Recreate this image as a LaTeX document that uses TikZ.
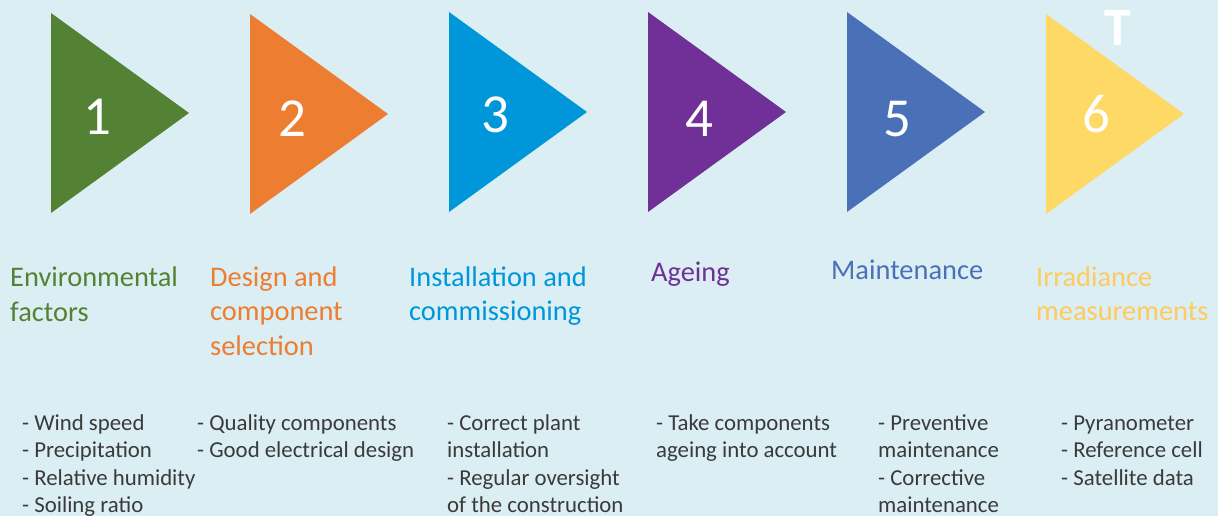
\documentclass[tikz,border=0pt]{standalone}
\usepackage{fontspec}
\setmainfont{Carlito}
\definecolor{bg}{HTML}{DAEEF3}
\definecolor{cgreen}{HTML}{548235}
\definecolor{corange}{HTML}{ED7D31}
\definecolor{cblue}{HTML}{0096DA}
\definecolor{cpurple}{HTML}{703097}
\definecolor{cnavy}{HTML}{4A70B8}
\definecolor{cyellow}{HTML}{FFD966}
\definecolor{tyellow}{HTML}{FFCA5E}
\definecolor{txt}{HTML}{3A3A3A}
\tikzset{
  numtext/.style={text=white, inner sep=0, anchor=base, font=\fontsize{55}{60}\selectfont},
  title/.style={anchor=base west, inner sep=0, font=\fontsize{28.4}{32}\selectfont},
  item/.style={anchor=base west, inner sep=0, text=txt, font=\fontsize{22.8}{26}\selectfont},
}
\begin{document}
\begin{tikzpicture}[x=1pt,y=-1pt]
  % canvas
  \fill[bg] (0,0) rectangle (1218,516);
  \useasboundingbox (0,0) rectangle (1218,516);

  % stage triangles: left edge, top, colour
  \foreach \l/\t/\c in {51/13/cgreen, 250/14/corange, 449/12/cblue,
                        648/12/cpurple, 847/12/cnavy, 1046/14/cyellow}{
    \fill[\c] (\l,\t) -- (\l+138,\t+100) -- (\l,\t+200) -- cycle;
  }

  % stage numbers
  \node[numtext] (n1) at (97,135) {1};
  \node[numtext] (n2) at (292,136) {2};
  \node[numtext] (n3) at (495,133) {3};
  \node[numtext] (n4) at (699,137) {4};
  \node[numtext] (n5) at (897,137) {5};
  \node[numtext] (n6) at (1096,132) {6};
  \node[text=white, inner sep=0, anchor=base, font=\fontsize{54}{60}\bfseries] (tmark) at (1118,46) {T};

  % stage titles
  \node[title, text=cgreen] (t1a) at (10,286) {Environmental};
  \node[title, text=cgreen] (t1b) at (10,321) {factors};
  \node[title, text=corange] (t2a) at (210,286) {Design and};
  \node[title, text=corange] (t2b) at (210,320.5) {component};
  \node[title, text=corange] (t2c) at (210,355) {selection};
  \node[title, text=cblue] (t3a) at (409,286) {Installation and};
  \node[title, text=cblue] (t3b) at (409,320.5) {commissioning};
  \node[title, text=cpurple] (t4a) at (651,281) {Ageing};
  \node[title, text=cnavy] (t5a) at (831,279) {Maintenance};
  \node[title, text=tyellow] (t6a) at (1036,286) {Irradiance};
  \node[title, text=tyellow] (t6b) at (1036,320.5) {measurements};

  % key points per stage
  \node[item] (i1a) at (22,430) {- Wind speed};
  \node[item] (i1b) at (22,457.5) {- Precipitation};
  \node[item] (i1c) at (22,485) {- Relative humidity};
  \node[item] (i1d) at (22,512.5) {- Soiling ratio};

  \node[item] (i2a) at (197,430) {- Quality components};
  \node[item] (i2b) at (197,457.5) {- Good electrical design};

  \node[item] (i3a) at (447,430) {- Correct plant};
  \node[item] (i3b) at (447,457.5) {installation};
  \node[item] (i3c) at (447,485) {- Regular oversight};
  \node[item] (i3d) at (447,512.5) {of the construction};

  \node[item] (i4a) at (656,430) {- Take components};
  \node[item] (i4b) at (656,457.5) {ageing into account};

  \node[item] (i5a) at (878,430) {- Preventive};
  \node[item] (i5b) at (878,457.5) {maintenance};
  \node[item] (i5c) at (878,485) {- Corrective};
  \node[item] (i5d) at (878,512.5) {maintenance};

  \node[item] (i6a) at (1061,430) {- Pyranometer};
  \node[item] (i6b) at (1061,457.5) {- Reference cell};
  \node[item] (i6c) at (1061,485) {- Satellite data};
\end{tikzpicture}
\end{document}
